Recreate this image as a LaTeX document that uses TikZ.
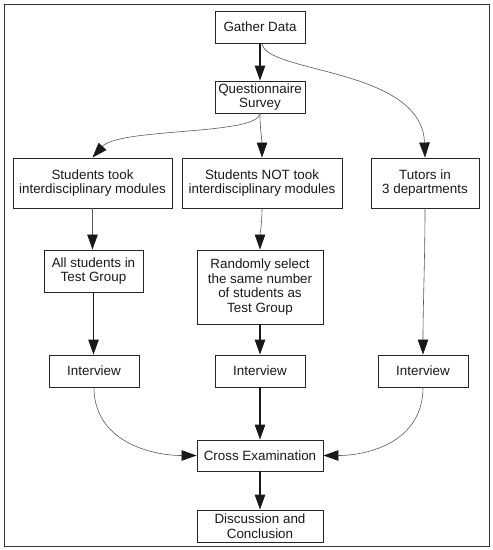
\documentclass[tikz,border=0pt]{standalone}
\usepackage{fontspec}
\setmainfont{Liberation Sans}
\usetikzlibrary{arrows.meta}
\begin{document}
\begin{tikzpicture}[x=1pt,y=-1pt,
  box/.style={draw=black!85,line width=0.9pt,inner sep=0pt,align=center,
    font=\fontsize{13.4}{14.6}\selectfont,text=black!90},
  thick arrow/.style={draw=black!90,line width=1.1pt,-{Triangle[length=15pt,width=10.5pt]}},
  thin arrow/.style={draw=black!65,line width=0.6pt,-{Triangle[length=15pt,width=10.5pt,color=black!90]}}]
\useasboundingbox (0,0) rectangle (493,550);
\draw[line width=0.9pt,black!80] (4,4) rectangle (489,546);
\node[box,minimum width=90pt,minimum height=32pt] (gd) at (260,27) {Gather Data};
\node[box,minimum width=90pt,minimum height=32pt] (qs) at (260,97) {Questionnaire\\Survey};
\node[box,minimum width=159pt,minimum height=50pt] (st) at (92.5,183) {Students took\\interdisciplinary modules};
\node[box,minimum width=160pt,minimum height=50pt] (nt) at (262,183) {Students NOT took\\interdisciplinary modules};
\node[box,minimum width=108pt,minimum height=50pt] (tu) at (425,183) {Tutors in\\3 departments};
\node[box,minimum width=99pt,minimum height=42pt] (al) at (93.5,271) {All students in\\Test Group};
\node[box,minimum width=126pt,minimum height=74pt] (rs) at (260,287) {Randomly select\\the same number\\of students as\\Test Group};
\node[box,minimum width=90pt,minimum height=32pt] (i1) at (94,371) {Interview};
\node[box,minimum width=90pt,minimum height=32pt] (i2) at (260,371) {Interview};
\node[box,minimum width=90pt,minimum height=32pt] (i3) at (423,371) {Interview};
\node[box,minimum width=126pt,minimum height=31pt] (cx) at (260,455.5) {Cross Examination};
\node[box,minimum width=126pt,minimum height=32pt] (dc) at (260,526) {Discussion and\\Conclusion};
% connectors
\draw[thick arrow] (gd.south) -- (qs.north);
\draw[thin arrow] ([xshift=2pt]gd.south) .. controls +(3,30) and +(-3,-90) .. (tu.north);
\draw[thin arrow] (qs.south) .. controls +(-2,22) and +(27,-30) .. (st.north);
\draw[thin arrow] (qs.south) .. controls +(0,17) and +(0,-18) .. (nt.north);
\draw[thin arrow] (st.south) -- (st.south |- al.north);
\draw[thin arrow] (nt.south) .. controls +(0,15) and +(0,-15) .. (rs.north);
\draw[thin arrow] (tu.south) .. controls +(0,50) and +(0,-50) .. (i3.north);
\draw[thick arrow] (al.south) -- (al.south |- i1.north);
\draw[thick arrow] (rs.south) -- (i2.north);
\draw[thin arrow] (i1.south) .. controls +(0,53) and +(-47,0) .. (cx.west);
\draw[thick arrow] (i2.south) -- (cx.north);
\draw[thin arrow] (i3.south) .. controls +(0,53) and +(47,0) .. (cx.east);
\draw[thick arrow] (cx.south) -- (dc.north);
\end{tikzpicture}
\end{document}
